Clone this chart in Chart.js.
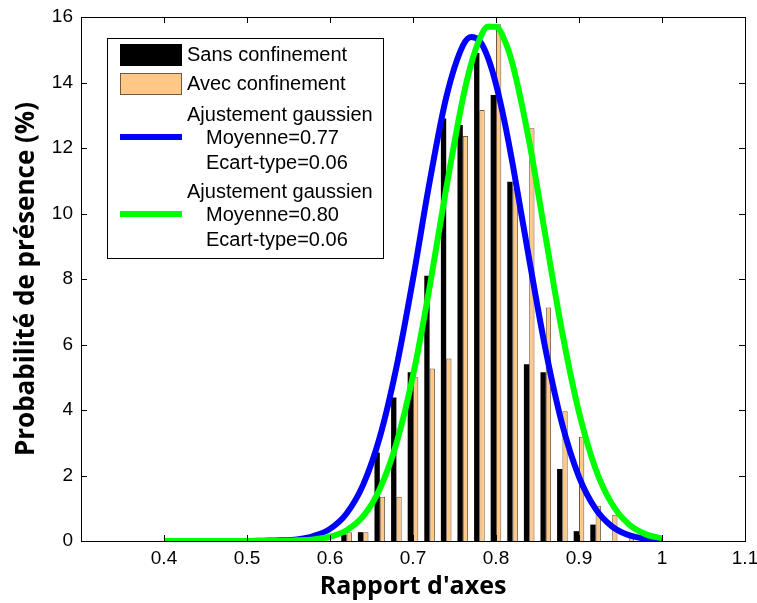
<!DOCTYPE html>
<html>
<head>
<meta charset="utf-8">
<script src="https://cdn.jsdelivr.net/npm/chart.js@4.4.0/dist/chart.umd.min.js"></script>
<style>
  html, body { margin: 0; padding: 0; background: #fff; }
  #wrap { width: 757px; height: 603px; }
</style>
</head>
<body>
<div id="wrap"><canvas id="histChart" width="757" height="603"></canvas></div>
<script>
// histogram bins (rapport d'axes) and percentages
const binCenters = [0.62, 0.64, 0.66, 0.68, 0.70, 0.72, 0.74, 0.76, 0.78, 0.80, 0.82, 0.84, 0.86, 0.88, 0.90, 0.92, 0.94, 0.96];
const sansConfinement = [0.2, 0.27, 2.7, 4.38, 5.15, 8.1, 12.9, 12.7, 14.9, 13.62, 10.97, 5.4, 5.15, 2.2, 0.3, 0.5, 0, 0];
const avecConfinement = [0.27, 0.27, 1.35, 1.35, 5.0, 5.27, 5.57, 12.37, 13.16, 15.78, 10.76, 12.6, 7.13, 3.96, 3.18, 1.08, 0.8, 0.2];

// gaussian fit curves
const fitX = [0.40, 0.45, 0.50, 0.52, 0.54, 0.56, 0.58, 0.60, 0.62, 0.64, 0.66, 0.68, 0.70, 0.72, 0.74, 0.76, 0.77, 0.78, 0.79, 0.80, 0.81, 0.82, 0.84, 0.86, 0.88, 0.90, 0.92, 0.94, 0.96, 0.98, 1.00];
const fitSans = [0, 0, 0, 0.01, 0.02, 0.05, 0.15, 0.37, 0.84, 1.72, 3.17, 5.3, 8.0, 10.96, 13.54, 15.12, 15.39, 15.28, 14.78, 13.95, 12.84, 11.52, 8.6, 5.81, 3.54, 1.96, 0.98, 0.44, 0.18, 0.07, 0.02];
const fitAvec = [0, 0, 0, 0, 0, 0.02, 0.05, 0.13, 0.33, 0.76, 1.59, 2.98, 5.05, 7.75, 10.76, 13.5, 14.56, 15.31, 15.7, 15.7, 15.31, 14.56, 12.2, 9.25, 6.34, 3.93, 2.2, 1.12, 0.51, 0.21, 0.08];

const seriesNames = ['Sans confinement', 'Avec confinement'];
const fitLabels = [
    ['Ajustement gaussien', 'Moyenne=0.77', 'Ecart-type=0.06'],
    ['Ajustement gaussien', 'Moyenne=0.80', 'Ecart-type=0.06']
];

const tickFont = { family: '"Liberation Sans", Arial, sans-serif', size: 19 };

// matlab style box with inward ticks on all four sides
const axesBox = {
    id: 'axesBox',
    afterDraw(chart) {
        const ctx = chart.ctx;
        const a = chart.chartArea;
        const xs = chart.scales.x, ys = chart.scales.y;
        ctx.save();
        ctx.strokeStyle = '#000';
        ctx.lineWidth = 1;
        ctx.strokeRect(Math.round(a.left) + 0.5, Math.round(a.top) + 0.5, Math.round(a.right - a.left), Math.round(a.bottom - a.top));
        ctx.beginPath();
        xs.ticks.forEach(t => {
            const px = Math.round(xs.getPixelForValue(t.value)) + 0.5;
            ctx.moveTo(px, a.bottom); ctx.lineTo(px, a.bottom - 6);
            ctx.moveTo(px, a.top); ctx.lineTo(px, a.top + 6);
        });
        ys.ticks.forEach(t => {
            const py = Math.round(ys.getPixelForValue(t.value)) + 0.5;
            ctx.moveTo(a.left, py); ctx.lineTo(a.left + 6, py);
            ctx.moveTo(a.right, py); ctx.lineTo(a.right - 6, py);
        });
        ctx.stroke();
        ctx.restore();
    }
};

// legend box in the upper left corner
const boxLegend = {
    id: 'boxLegend',
    afterDatasetsDraw(chart) {
        const ctx = chart.ctx;
        const a = chart.chartArea;
        const ds = chart.data.datasets;
        const x0 = a.left + 26, y0 = a.top + 21;
        const w = 276, h = 220;
        const swX = x0 + 13, swW = 62, txX = x0 + 80, subX = x0 + 99;
        ctx.save();
        ctx.fillStyle = '#fff';
        ctx.fillRect(x0, y0, w, h);
        ctx.strokeStyle = '#000';
        ctx.lineWidth = 1;
        ctx.strokeRect(x0 + 0.5, y0 + 0.5, w, h);

        ctx.font = '20px "Liberation Sans", Arial, sans-serif';
        ctx.textBaseline = 'middle';
        ctx.textAlign = 'left';

        // bar entries
        [0, 1].forEach(i => {
            const cy = y0 + 17 + i * 29;
            ctx.fillStyle = ds[i].backgroundColor;
            ctx.fillRect(swX, cy - 11, swW, 22);
            ctx.strokeStyle = ds[i].borderColor;
            ctx.strokeRect(swX + 0.5, cy - 10.5, swW - 1, 21);
            ctx.fillStyle = '#000';
            ctx.fillText(seriesNames[i], txX, cy);
        });

        // fit entries
        [0, 1].forEach(i => {
            const base = y0 + 77 + i * 77;
            const lines = fitLabels[i];
            ctx.fillStyle = '#000';
            ctx.fillText(lines[0], txX, base);
            ctx.fillText(lines[1], subX, base + 23);
            ctx.fillText(lines[2], subX, base + 48);
            ctx.strokeStyle = ds[i + 2].borderColor;
            ctx.lineWidth = 6;
            ctx.beginPath();
            ctx.moveTo(swX, base + 22);
            ctx.lineTo(swX + swW, base + 22);
            ctx.stroke();
            ctx.lineWidth = 1;
        });
        ctx.restore();
    }
};

const ctx = document.getElementById('histChart').getContext('2d');

new Chart(ctx, {
    type: 'bar',
    data: {
        datasets: [
            {
                label: seriesNames[0],
                data: binCenters.map((x, i) => ({ x: x, y: sansConfinement[i] })),
                backgroundColor: '#000000',
                borderColor: '#000000',
                borderWidth: 0,
                barPercentage: 1.0,
                categoryPercentage: 0.64,
                order: 3
            },
            {
                label: seriesNames[1],
                data: binCenters.map((x, i) => ({ x: x, y: avecConfinement[i] })),
                backgroundColor: '#FFC886',
                borderColor: '#6e5a44',
                borderWidth: 1,
                barPercentage: 1.0,
                categoryPercentage: 0.64,
                order: 4
            },
            {
                type: 'line',
                label: 'Ajustement gaussien 0.77',
                data: fitX.map((x, i) => ({ x: x, y: fitSans[i] })),
                borderColor: '#0000FF',
                borderWidth: 6,
                pointRadius: 0,
                fill: false,
                cubicInterpolationMode: 'monotone',
                order: 2
            },
            {
                type: 'line',
                label: 'Ajustement gaussien 0.80',
                data: fitX.map((x, i) => ({ x: x, y: fitAvec[i] })),
                borderColor: '#00FF00',
                borderWidth: 6,
                pointRadius: 0,
                fill: false,
                cubicInterpolationMode: 'monotone',
                order: 1
            }
        ]
    },
    options: {
        responsive: false,
        animation: false,
        devicePixelRatio: 1,
        layout: {
            autoPadding: false,
            padding: { left: 0, top: 17, right: 12, bottom: 0 }
        },
        plugins: {
            legend: { display: false },
            tooltip: { enabled: false }
        },
        scales: {
            x: {
                type: 'linear',
                min: 0.3,
                max: 1.1,
                offset: false,
                grid: { display: false, drawTicks: false },
                border: { display: false },
                ticks: {
                    stepSize: 0.1,
                    autoSkip: false,
                    maxRotation: 0,
                    padding: 6,
                    color: '#000',
                    font: tickFont,
                    callback: function (value) {
                        if (value < 0.35) return '';
                        return String(Math.round(value * 10) / 10);
                    }
                },
                title: {
                    display: true,
                    text: "Rapport d'axes",
                    color: '#000',
                    font: { family: '"Open Sans", sans-serif', size: 25, weight: 'bold' },
                    padding: { top: 0, bottom: 1 }
                },
                afterFit: function (scale) {
                    scale.height = 62;
                    scale.paddingLeft = 0;
                    scale.paddingRight = 0;
                }
            },
            y: {
                min: 0,
                max: 16,
                grid: { display: false, drawTicks: false },
                border: { display: false },
                ticks: {
                    stepSize: 2,
                    padding: 8,
                    color: '#000',
                    font: tickFont
                },
                title: {
                    display: true,
                    text: 'Probabilité de présence (%)',
                    color: '#000',
                    font: { family: '"Open Sans", sans-serif', size: 26, weight: 'bold' },
                    padding: { top: 11, bottom: 0 }
                },
                afterFit: function (scale) {
                    scale.width = 81;
                    scale.paddingTop = 0;
                    scale.paddingBottom = 0;
                }
            }
        }
    },
    plugins: [boxLegend, axesBox]
});
</script>
</body>
</html>
